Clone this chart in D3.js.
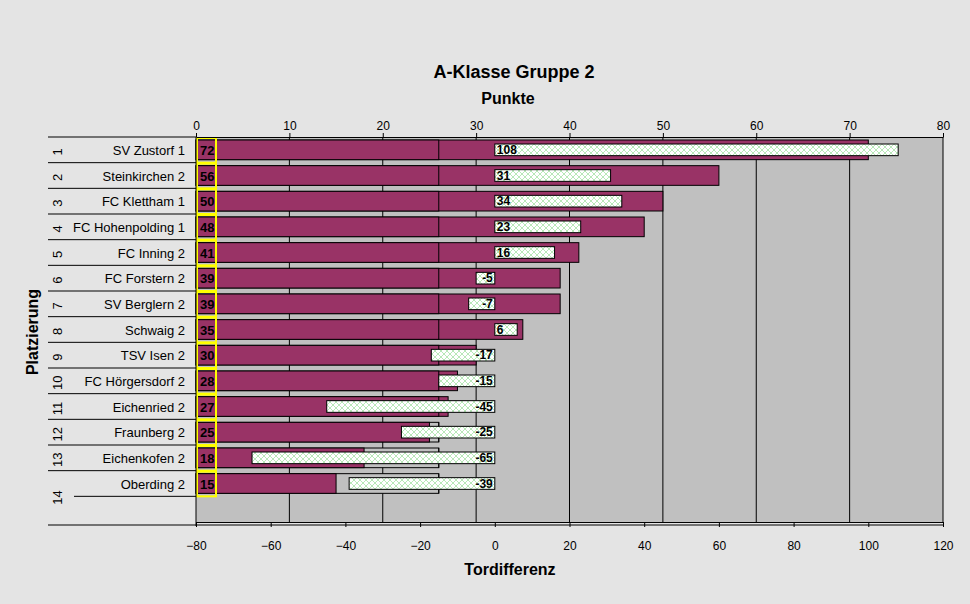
<!DOCTYPE html><html><head><meta charset="utf-8">
<script src="https://cdn.jsdelivr.net/npm/d3@7"></script>
<style>body{margin:0;background:#e4e4e4}text{font-family:Arial,"Liberation Sans",sans-serif}</style></head><body>
<svg id="c" width="970" height="604"></svg>
<script>
const teams=["SV Zustorf 1","Steinkirchen 2","FC Klettham 1","FC Hohenpolding 1","FC Inning 2","FC Forstern 2","SV Berglern 2","Schwaig 2","TSV Isen 2","FC Hörgersdorf 2","Eichenried 2","Fraunberg 2","Eichenkofen 2","Oberding 2"];
const ranks=["1","2","3","4","5","6","7","8","9","10","11","12","13","14"];
const punkte=[72,56,50,48,41,39,39,35,30,28,27,25,18,15];
const tordiff=[108,31,34,23,16,-5,-7,6,-17,-15,-45,-25,-65,-39];
const refBox=26;
const topTicks=[0,10,20,30,40,50,60,70,80];
const botTicks=[-80,-60,-40,-20,0,20,40,60,80,100,120];

const svg=d3.select("#c");
const defs=svg.append("defs");
const pat=defs.append("pattern").attr("id","chk").attr("width",6).attr("height",6).attr("patternUnits","userSpaceOnUse");
pat.append("rect").attr("width",6).attr("height",6).attr("fill","#fff");
pat.append("path").attr("d","M0,0L6,6M6,0L0,6").attr("stroke","#b8e8b8").attr("stroke-width",1);

const L=196,R=943,T=137,B=522;
const xp=d3.scaleLinear().domain([0,80]).range([L,R]);
const xt=d3.scaleLinear().domain([-80,120]).range([L,R]);
const y=d3.scaleBand().domain(d3.range(15)).range([T,B]);
const bw=y.bandwidth();

svg.append("rect").attr("x",L).attr("y",T).attr("width",R-L).attr("height",B-T).attr("fill","#c0c0c0");
svg.append("g").selectAll("line").data(topTicks.slice(1)).join("line")
 .attr("x1",d=>xp(d)).attr("x2",d=>xp(d)).attr("y1",T).attr("y2",B).attr("stroke","#000");

const rows=svg.append("g").selectAll("g").data(teams).join("g");
rows.append("rect").attr("x",L).attr("y",(d,i)=>y(i)+3).attr("width",xp(refBox)-L).attr("height",bw-6).attr("fill","#c0c0c0").attr("stroke","#000");
rows.append("rect").attr("x",L).attr("y",(d,i)=>y(i)+3).attr("width",(d,i)=>xp(punkte[i])-L).attr("height",bw-6).attr("fill","#993366").attr("stroke","#000");
rows.append("line").attr("x1",xp(refBox)).attr("x2",xp(refBox)).attr("y1",(d,i)=>y(i)+3).attr("y2",(d,i)=>y(i)+bw-3).attr("stroke","#000");
rows.append("rect").attr("x",(d,i)=>Math.min(xt(0),xt(tordiff[i]))).attr("y",(d,i)=>y(i)+7).attr("width",(d,i)=>Math.abs(xt(tordiff[i])-xt(0))).attr("height",bw-14).attr("fill","url(#chk)").attr("stroke","#000");
rows.append("text").attr("x",(d,i)=>tordiff[i]>=0?xt(0)+2:xt(0)-2).attr("y",(d,i)=>y(i)+bw/2+4).attr("text-anchor",(d,i)=>tordiff[i]>=0?"start":"end").attr("font-size",12).attr("font-weight","bold").text((d,i)=>tordiff[i]);
rows.append("rect").attr("x",L+1).attr("y",(d,i)=>y(i)+1).attr("width",19).attr("height",bw-1).attr("fill","none").attr("stroke","#ffff00").attr("stroke-width",2);
rows.append("text").attr("x",L+4).attr("y",(d,i)=>y(i)+bw/2+5).attr("font-size",13).attr("font-weight","bold").text((d,i)=>punkte[i]);
// left table
rows.append("text").attr("x",L-11).attr("y",(d,i)=>y(i)+bw/2+5).attr("text-anchor","end").attr("font-size",13).text(d=>d);
svg.append("g").selectAll("line").data(d3.range(14)).join("line")
 .attr("x1",d=>d==13?74:48).attr("x2",L).attr("y1",d=>y(d+1)).attr("y2",d=>y(d+1)).attr("stroke","#000");
svg.append("line").attr("x1",48).attr("x2",L).attr("y1",T).attr("y2",T).attr("stroke","#000");
svg.append("g").selectAll("text").data(ranks).join("text")
 .attr("transform",(d,i)=>`translate(62,${i==13?y(i)+bw/2+14:y(i)+bw/2+2}) rotate(-90)`).attr("text-anchor","middle").attr("font-size",13).text(d=>d);
svg.append("line").attr("x1",L).attr("x2",L).attr("y1",T).attr("y2",B+4).attr("stroke","#000");

// axes
const ga=svg.append("g").attr("transform",`translate(0,${T})`).call(d3.axisTop(xp).tickValues(topTicks).tickSize(4).tickSizeOuter(0));
const gb=svg.append("g").attr("transform",`translate(0,${B})`).call(d3.axisBottom(xt).tickValues(botTicks).tickSize(5).tickSizeOuter(0).tickPadding(14));
[ga,gb].forEach(g=>{g.selectAll("text").attr("font-size",12).attr("fill","#000");g.select(".domain").attr("stroke","#000");});
svg.append("line").attr("x1",48).attr("x2",R).attr("y1",B+3).attr("y2",B+3).attr("stroke","#000");

svg.append("text").attr("x",514).attr("y",78).attr("text-anchor","middle").attr("font-size",18).attr("font-weight","bold").text("A-Klasse Gruppe 2");
svg.append("text").attr("x",508).attr("y",104).attr("text-anchor","middle").attr("font-size",16).attr("font-weight","bold").text("Punkte");
svg.append("text").attr("x",510).attr("y",575).attr("text-anchor","middle").attr("font-size",16).attr("font-weight","bold").text("Tordifferenz");
svg.append("text").attr("transform","translate(38,332) rotate(-90)").attr("text-anchor","middle").attr("font-size",16).attr("font-weight","bold").text("Platzierung");
</script></body></html>
